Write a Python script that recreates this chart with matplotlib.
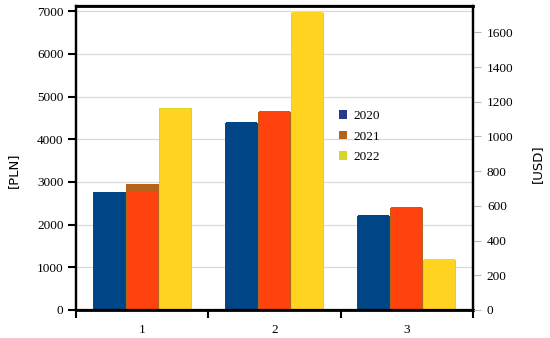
import matplotlib
matplotlib.use("Agg")
import matplotlib.pyplot as plt
import numpy as np

categories = ["1", "2", "3"]
years = ["2020", "2021", "2022"]
pln = {"2020": [2760, 4380, 2190],
       "2021": [2960, 4640, 2390],
       "2022": [4730, 6960, 1180]}
usd = {"2020": [680, 1085, 545],
       "2021": [680, 1148, 595],
       "2022": [1160, 1715, 292]}
pln_ticks = [0, 1000, 2000, 3000, 4000, 5000, 6000, 7000]
usd_ticks = [0, 200, 400, 600, 800, 1000, 1200, 1400, 1600]

pln_colors = ["#283a8c", "#b5631b", "#d6d62a"]
usd_colors = ["#004586", "#ff420e", "#ffd320"]

fig = plt.figure(figsize=(5.5, 3.38), dpi=100)
ax = fig.add_axes([76/550, 1-310/338, (473-76)/550, (310-6)/338])
ax2 = ax.twinx()

x = np.arange(len(categories))
w = 0.25
for i, y in enumerate(years):
    ax.bar(x + (i-1)*w, pln[y], width=w, color=pln_colors[i], label=y, zorder=2)
    ax2.bar(x + (i-1)*w, usd[y], width=w*0.94, color=usd_colors[i], zorder=2)

ax.set_xlim(-0.5, 2.5)
ax.set_ylim(0, 7120)
ax2.set_ylim(0, 1752)
ax.set_yticks(pln_ticks)
ax2.set_yticks(usd_ticks)
ax.set_axisbelow(True)
ax.yaxis.grid(True, color="#d9d9d9", linewidth=0.9, zorder=0)

ax.set_xticks(x)
ax.set_xticklabels(categories)
ax.set_xticks([-0.5, 0.5, 1.5, 2.5], minor=True)
ax.tick_params(axis="x", which="major", length=0, pad=10)
ax.tick_params(axis="x", which="minor", length=6, width=1.5, direction="out")
ax.tick_params(axis="y", length=6, width=1.5, direction="out", pad=3)
ax2.tick_params(axis="y", length=6, width=0.8, color="#bbbbbb", direction="out", pad=4)

serif = "Liberation Serif"
for lab in ax.get_xticklabels() + ax.get_yticklabels() + ax2.get_yticklabels():
    lab.set_fontfamily(serif)
    lab.set_fontsize(9.5)

for a in (ax, ax2):
    for s in a.spines.values():
        s.set_linewidth(1.6)
        s.set_color("black")
ax.spines["bottom"].set_linewidth(2)
ax.spines["top"].set_linewidth(2)

ax.set_ylabel("[PLN]", fontsize=9.5, fontfamily="DejaVu Sans")
ax.yaxis.set_label_coords(-0.142, 0.46)
ax2.set_ylabel("[USD]", fontsize=9.5, fontfamily="DejaVu Sans", rotation=90)
ax2.yaxis.set_label_coords(1.147, 0.48)

leg = ax.legend(loc="upper left", bbox_to_anchor=(0.633, 0.697), frameon=False,
                prop={"family": serif, "size": 9.5}, handlelength=0.6,
                handleheight=0.6, handletextpad=0.5, labelspacing=0.65)

fig.savefig("out.png", dpi=100)
